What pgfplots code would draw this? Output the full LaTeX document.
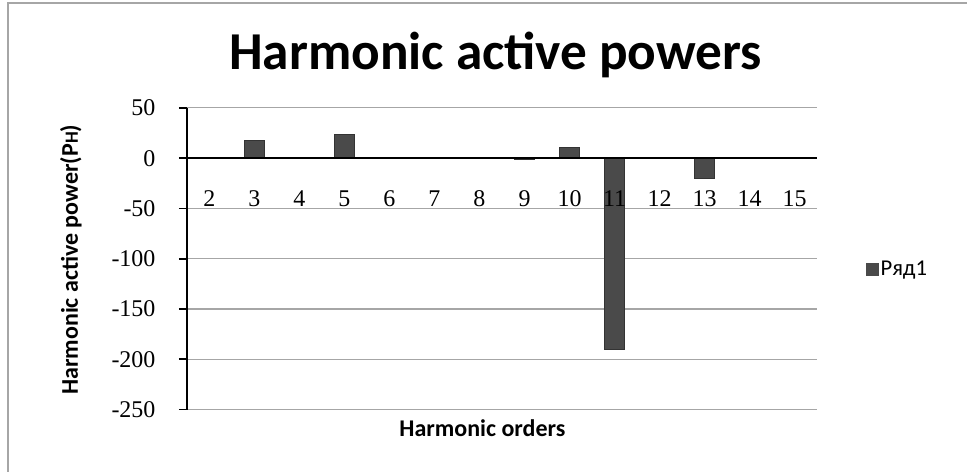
\documentclass[border=0pt]{standalone}
\usepackage{pgfplots}
\pgfplotsset{compat=1.18}
\usepackage{fontspec}
\setmainfont{Carlito}
\newfontfamily\tickfont{Liberation Serif}
\definecolor{gridgray}{HTML}{A6A6A6}
\definecolor{bargray}{HTML}{4A4A4A}
\pgfplotsset{
  layers/mylayers/.define layer set={axis background,axis grid,pre main,main,axis ticks,axis lines,axis tick labels,axis descriptions,axis foreground}{
    grid style={/pgfplots/on layer=axis grid},
    tick style={/pgfplots/on layer=axis ticks},
    axis line style={/pgfplots/on layer=axis lines},
    ticklabel style={/pgfplots/on layer=axis tick labels},
    label style={/pgfplots/on layer=axis descriptions},
    legend style={/pgfplots/on layer=axis descriptions},
    title style={/pgfplots/on layer=axis descriptions},
  },
}
\begin{document}
\begin{tikzpicture}
\path (0,0) rectangle (726pt,354pt);
\draw[gridgray, line width=1.5pt] (6pt,0) -- (6pt,351.75pt) -- (726pt,351.75pt);
\begin{axis}[
  set layers=mylayers,
  at={(140.25pt,46.5pt)}, anchor=south west,
  scale only axis, width=473.25pt, height=226.5pt,
  xmin=1.5, xmax=15.5, ymin=-250, ymax=50,
  axis x line=middle, axis y line=left,
  axis line style={-, black, line width=1.5pt},
  xtick={2,...,15},
  x tick style={draw=none},
  ytick={-250,-200,-150,-100,-50,0,50},
  yticklabels={-250,-200,-150,-100,-50,0,50},
  tick align=outside, major tick length=6pt,
  y tick style={black, line width=1.2pt},
  ymajorgrids, grid style={gridgray, line width=0.9pt},
  /pgf/number format/assume math mode=true,
  tick label style={font=\tickfont\fontsize{18}{18}\selectfont, fill=none},
  xticklabel style={anchor=base, yshift=-30pt},
  yticklabel style={anchor=east, xshift=-14pt},
  title={Harmonic active powers},
  every axis title/.style={at={(axis description cs:0.49,1.128)}, anchor=base, font=\bfseries\fontsize{40}{40}\selectfont},
  xlabel={Harmonic orders},
  every axis x label/.style={at={(axis description cs:0.469,-0.089)}, anchor=base, font=\bfseries\fontsize{18}{18}\selectfont},
  ylabel={Harmonic active power(P{\fontsize{14}{14}\selectfont H})},
  every axis y label/.style={at={(axis description cs:-0.184,0.497)}, rotate=90, anchor=center, font=\bfseries\fontsize{18}{18}\selectfont},
  legend style={at={(1.07,0.465)}, anchor=west, draw=none, fill=none, font=\fontsize{17}{17}\selectfont},
  legend image code/.code={\fill[bargray] (0pt,-4.5pt) rectangle (9pt,4.5pt);},
]
\addplot[ybar, bar width=15pt, fill=bargray, draw=black!80] coordinates {
  (2,-0.5) (3,18) (4,1) (5,24) (6,0) (7,1) (8,-0.3) (9,-0.8)
  (10,11) (11,-190) (12,0) (13,-20) (14,0) (15,1)
};
\addlegendentry{Ряд1}
\end{axis}
\end{tikzpicture}
\end{document}
